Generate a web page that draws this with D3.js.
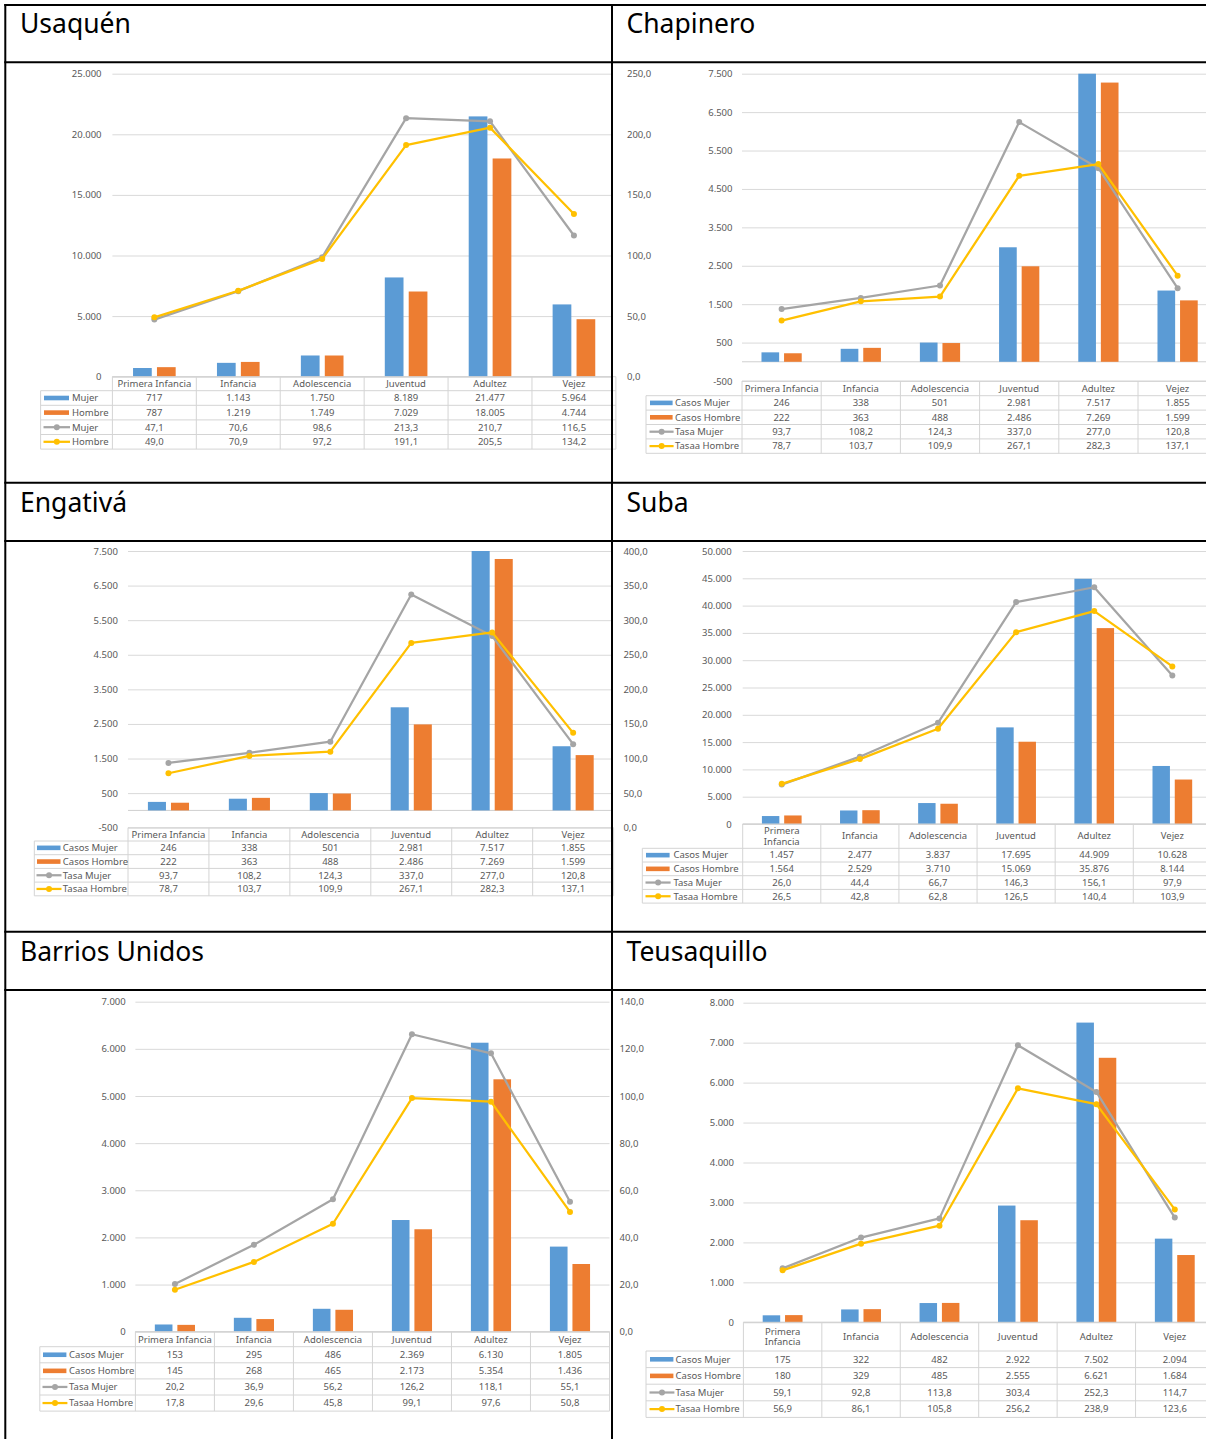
<!DOCTYPE html>
<html><head><meta charset="utf-8">
<script src="https://cdn.jsdelivr.net/npm/d3@7"></script>
<style>body{margin:0;background:#fff}svg{display:block}</style>
</head><body>
<svg id="c" width="1206" height="1439"></svg>
<script>
// ---------- DATA ----------
const categories = ["Primera Infancia","Infancia","Adolescencia","Juventud","Adultez","Vejez"];
const districts = ["Usaquén","Chapinero","Engativá","Suba","Barrios Unidos","Teusaquillo"];
const seriesNames = ["Casos Mujer","Casos Hombre","Tasa Mujer","Tasaa Hombre"];
const usaquenSeriesNames = ["Mujer","Hombre","Mujer","Hombre"];

const usaquenCasosMujer   = [717,1143,1750,8189,21477,5964];
const usaquenCasosHombre  = [787,1219,1749,7029,18005,4744];
const usaquenTasaMujer    = [47.1,70.6,98.6,213.3,210.7,116.5];
const usaquenTasaHombre   = [49.0,70.9,97.2,191.1,205.5,134.2];

const chapineroCasosMujer  = [246,338,501,2981,7517,1855];
const chapineroCasosHombre = [222,363,488,2486,7269,1599];
const chapineroTasaMujer   = [93.7,108.2,124.3,337.0,277.0,120.8];
const chapineroTasaHombre  = [78.7,103.7,109.9,267.1,282.3,137.1];

const engativaCasosMujer  = [246,338,501,2981,7517,1855];
const engativaCasosHombre = [222,363,488,2486,7269,1599];
const engativaTasaMujer   = [93.7,108.2,124.3,337.0,277.0,120.8];
const engativaTasaHombre  = [78.7,103.7,109.9,267.1,282.3,137.1];

const subaCasosMujer  = [1457,2477,3837,17695,44909,10628];
const subaCasosHombre = [1564,2529,3710,15069,35876,8144];
const subaTasaMujer   = [26.0,44.4,66.7,146.3,156.1,97.9];
const subaTasaHombre  = [26.5,42.8,62.8,126.5,140.4,103.9];

const barriosCasosMujer  = [153,295,486,2369,6130,1805];
const barriosCasosHombre = [145,268,465,2173,5354,1436];
const barriosTasaMujer   = [20.2,36.9,56.2,126.2,118.1,55.1];
const barriosTasaHombre  = [17.8,29.6,45.8,99.1,97.6,50.8];

const teusaquilloCasosMujer  = [175,322,482,2922,7502,2094];
const teusaquilloCasosHombre = [180,329,485,2555,6621,1684];
const teusaquilloTasaMujer   = [59.1,92.8,113.8,303.4,252.3,114.7];
const teusaquilloTasaHombre  = [56.9,86.1,105.8,256.2,238.9,123.6];

// axis domains (tick labels)
const usaquenAxis     = {y:[0,25000], step:5000, y2:[0,250], step2:50};
const chapineroAxis   = {y:[-500,7500], step:1000, y2:[0,400], step2:50};
const engativaAxis    = {y:[-500,7500], step:1000, y2:[0,400], step2:50};
const subaAxis        = {y:[0,50000], step:5000, y2:[0,180], step2:20};
const barriosAxis     = {y:[0,7000], step:1000, y2:[0,140], step2:20};
const teusaquilloAxis = {y:[0,8000], step:1000, y2:[0,350], step2:50};

// ---------- LAYOUT ----------
const panels = [
  {name:districts[0], names:usaquenSeriesNames, data:[usaquenCasosMujer,usaquenCasosHombre,usaquenTasaMujer,usaquenTasaHombre], ax:usaquenAxis,
   tx:20, ty:32.5, left:112.4, right:615.9, gridRight:611, top:73.7, bottom:376.7, labelX:101.5, y2X:627,
   headH:14, rowH:14.6, legLeft:40.6, keyX:44, keyW:25, labX:72, wrap:false},
  {name:districts[1], names:seriesNames, data:[chapineroCasosMujer,chapineroCasosHombre,chapineroTasaMujer,chapineroTasaHombre], ax:chapineroAxis,
   tx:626.5, ty:32.5, left:742, right:1217.2, gridRight:1217, top:73.7, bottom:381, labelX:732.5, y2X:null,
   headH:14.7, rowH:14.4, legLeft:646, keyX:650, keyW:22.6, labX:675, wrap:false},
  {name:districts[2], names:seriesNames, data:[engativaCasosMujer,engativaCasosHombre,engativaTasaMujer,engativaTasaHombre], ax:engativaAxis,
   tx:20, ty:511.5, left:128, right:613.6, gridRight:611, top:551, bottom:827.7, labelX:117.9, y2X:623.4,
   headH:13.3, rowH:13.7, legLeft:34.3, keyX:37, keyW:23.5, labX:62.8, wrap:false},
  {name:districts[3], names:seriesNames, data:[subaCasosMujer,subaCasosHombre,subaTasaMujer,subaTasaHombre], ax:subaAxis,
   tx:626.5, ty:511.5, left:742.7, right:1211.4, gridRight:1211, top:551, bottom:824, labelX:731.7, y2X:null,
   headH:24.3, rowH:13.7, legLeft:642.3, keyX:646, keyW:23.6, labX:673.4, wrap:true},
  {name:districts[4], names:seriesNames, data:[barriosCasosMujer,barriosCasosHombre,barriosTasaMujer,barriosTasaHombre], ax:barriosAxis,
   tx:20, ty:960.5, left:135.4, right:609.5, gridRight:609.5, top:1001.7, bottom:1331.7, labelX:125.7, y2X:619.6,
   headH:15, rowH:16.1, legLeft:39.8, keyX:43, keyW:23.4, labX:69.1, wrap:false},
  {name:districts[5], names:seriesNames, data:[teusaquilloCasosMujer,teusaquilloCasosHombre,teusaquilloTasaMujer,teusaquilloTasaHombre], ax:teusaquilloAxis,
   tx:626.5, ty:960.5, left:743.4, right:1214, gridRight:1214, top:1002.7, bottom:1322.3, labelX:734, y2X:null,
   headH:28.7, rowH:16.6, legLeft:646, keyX:650, keyW:23.4, labX:675.6, wrap:true}
];

const colors = ["#5B9BD5","#ED7D31","#A5A5A5","#FFC000"];
const textCol = "#595959";
const gridCol = "#D9D9D9";
const FONT = "'Noto Sans', 'DejaVu Sans', sans-serif";

const loc = d3.formatLocale({decimal:",", thousands:".", grouping:[3], currency:["$",""], minus:"-"});
const fInt = loc.format(",d");
const fDec = loc.format(",.1f");

const svg = d3.select("#c");
svg.append("rect").attr("width",1206).attr("height",1439).attr("fill","#fff");

function styleAxis(s, anchor){
  s.attr("font-family", FONT).attr("font-size", 9.5);
  s.select(".domain").remove();
  s.selectAll("text").attr("fill", textCol).attr("text-anchor", anchor);
}

panels.forEach(p => {
  const g = svg.append("g");
  const x = d3.scaleBand().domain(categories).range([p.left, p.right]);
  const y = d3.scaleLinear().domain(p.ax.y).range([p.bottom, p.top]);
  const y2 = d3.scaleLinear().domain(p.ax.y2).range([p.bottom, p.top]);
  const ticks = d3.range(p.ax.y[0], p.ax.y[1] + 1, p.ax.step);
  const ticks2 = d3.range(p.ax.y2[0], p.ax.y2[1] + 0.001, p.ax.step2);

  // title
  g.append("text").attr("x", p.tx).attr("y", p.ty).text(p.name)
    .attr("font-family", FONT).attr("font-size", 26.5).attr("fill", "#000");

  // gridlines
  g.append("g").attr("transform", `translate(${p.left},0)`)
    .call(d3.axisLeft(y).tickValues(ticks).tickSize(-(p.gridRight - p.left)).tickFormat(""))
    .call(s => { s.select(".domain").remove(); s.selectAll("line").attr("stroke", gridCol); });

  // primary labels
  g.append("g").attr("transform", `translate(${p.labelX},0)`)
    .call(d3.axisLeft(y).tickValues(ticks).tickSize(0).tickPadding(0).tickFormat(fInt))
    .call(s => styleAxis(s, "end"));

  // secondary labels (spill into neighbouring cell)
  if (p.y2X !== null) {
    g.append("g").attr("transform", `translate(${p.y2X},0)`)
      .call(d3.axisRight(y2).tickValues(ticks2).tickSize(0).tickPadding(0).tickFormat(fDec))
      .call(s => styleAxis(s, "start"));
  }

  // category axis line at zero
  g.append("line").attr("x1", p.left).attr("x2", p.gridRight)
    .attr("y1", y(0)).attr("y2", y(0)).attr("stroke", "#CFCFCF");

  // bars
  const bw = x.bandwidth() * 0.223, gap = x.bandwidth() * 0.062;
  [0,1].forEach(i => {
    g.append("g").selectAll("rect").data(p.data[i]).join("rect")
      .attr("x", (d,k) => x(categories[k]) + x.bandwidth()/2 + (i === 0 ? -gap/2 - bw : gap/2))
      .attr("y", d => Math.max(p.top, y(d)))
      .attr("width", bw)
      .attr("height", d => y(0) - Math.max(p.top, y(d)))
      .attr("fill", colors[i]);
  });

  // lines
  [2,3].forEach(i => {
    const line = d3.line().x((d,k) => x(categories[k]) + x.bandwidth()/2).y(d => y2(d));
    g.append("path").attr("d", line(p.data[i])).attr("fill", "none")
      .attr("stroke", colors[i]).attr("stroke-width", 2.25).attr("stroke-linejoin", "round");
    g.append("g").selectAll("circle").data(p.data[i]).join("circle")
      .attr("cx", (d,k) => x(categories[k]) + x.bandwidth()/2)
      .attr("cy", d => y2(d)).attr("r", 3).attr("fill", colors[i]);
  });

  // data table
  const t = g.append("g").attr("font-family", FONT).attr("font-size", 9.5).attr("fill", textCol);
  const headTop = p.bottom, headBot = p.bottom + p.headH;
  const tabBot = headBot + 4 * p.rowH;
  const bc = "#D4D4D4";
  // horizontal lines
  t.append("line").attr("x1", p.left).attr("x2", p.right).attr("y1", headTop).attr("y2", headTop).attr("stroke", bc);
  for (let r = 0; r <= 4; r++) {
    const yy = headBot + r * p.rowH;
    t.append("line").attr("x1", p.legLeft).attr("x2", p.right).attr("y1", yy).attr("y2", yy).attr("stroke", bc);
  }
  // vertical lines
  t.append("line").attr("x1", p.legLeft).attr("x2", p.legLeft).attr("y1", headBot).attr("y2", tabBot).attr("stroke", bc);
  categories.forEach(c => {
    t.append("line").attr("x1", x(c)).attr("x2", x(c)).attr("y1", headTop).attr("y2", tabBot).attr("stroke", bc);
  });
  t.append("line").attr("x1", p.right).attr("x2", p.right).attr("y1", headTop).attr("y2", tabBot).attr("stroke", bc);

  // header text
  categories.forEach(c => {
    const cx = x(c) + x.bandwidth()/2;
    const words = (p.wrap && c.indexOf(" ") > 0) ? c.split(" ") : [c];
    const lh = 10.5;
    const cy0 = (headTop + headBot)/2 - (words.length - 1) * lh / 2;
    words.forEach((w, j) => {
      t.append("text").attr("x", cx).attr("y", cy0 + j * lh).attr("dy", "0.35em")
        .attr("text-anchor", "middle").text(w);
    });
  });

  // rows
  for (let r = 0; r < 4; r++) {
    const cy = headBot + (r + 0.5) * p.rowH;
    if (r < 2) {
      t.append("rect").attr("x", p.keyX).attr("y", cy - 2.3).attr("width", p.keyW).attr("height", 4.6).attr("fill", colors[r]);
    } else {
      t.append("line").attr("x1", p.keyX - 0.5).attr("x2", p.keyX + p.keyW + 1).attr("y1", cy).attr("y2", cy)
        .attr("stroke", colors[r]).attr("stroke-width", 2.25);
      t.append("circle").attr("cx", p.keyX + p.keyW/2 + 0.3).attr("cy", cy).attr("r", 3).attr("fill", colors[r]);
    }
    t.append("text").attr("x", p.labX).attr("y", cy).attr("dy", "0.35em").text(p.names[r]);
    p.data[r].forEach((v, k) => {
      t.append("text").attr("x", x(categories[k]) + x.bandwidth()/2).attr("y", cy).attr("dy", "0.35em")
        .attr("text-anchor", "middle").text(r < 2 ? fInt(v) : fDec(v));
    });
  }
});

// ---------- cell borders ----------
const b = svg.append("g").attr("stroke", "#000").attr("stroke-width", 2);
[5, 62.3, 482.7, 541, 931.7, 990].forEach(yy => b.append("line").attr("x1", 4.3).attr("x2", 1206).attr("y1", yy).attr("y2", yy));
[5.3, 612].forEach(xx => b.append("line").attr("x1", xx).attr("x2", xx).attr("y1", 4).attr("y2", 1439));
</script>
</body></html>
